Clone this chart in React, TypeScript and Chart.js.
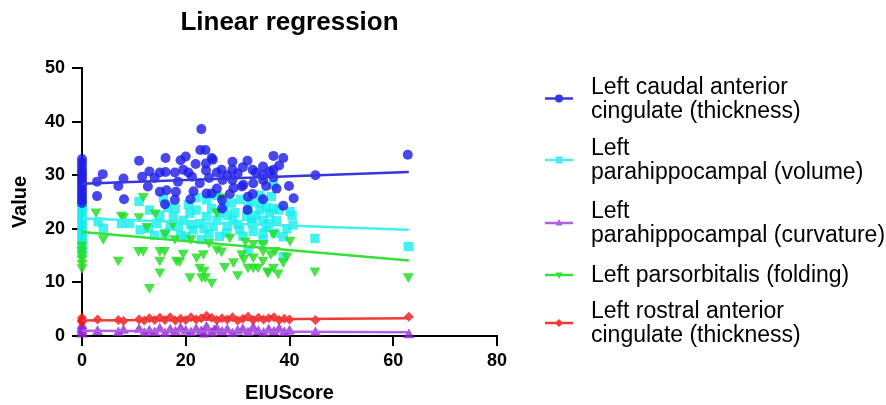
import React, { useEffect, useRef } from 'react';
import { Chart, registerables } from 'chart.js';
Chart.register(...registerables);

const titleText = 'Linear regression';
const xAxisTitle = 'EIUScore';
const yAxisTitle = 'Value';
const xTicks = [0, 20, 40, 60, 80];
const yTicks = [0, 10, 20, 30, 40, 50];

const seriesLabels = [
  ['Left caudal anterior', 'cingulate (thickness)'],
  ['Left', 'parahippocampal (volume)'],
  ['Left', 'parahippocampal (curvature)'],
  ['Left parsorbitalis (folding)'],
  ['Left rostral anterior', 'cingulate (thickness)'],
];

// Left caudal anterior cingulate (thickness)
const caudalX = [0, 0, 0, 0, 0, 0, 0, 0, 0, 0, 0, 0, 0, 0,
  2.9, 2.9, 4.0, 7.0, 8.0, 8.1, 11.0, 11.6, 12.7, 13.0, 14.0, 15.0, 15.0, 16.0, 16.1, 16.1, 16.3, 17.9, 17.9, 18.1, 18.5,
  19.0, 19.5, 20.0, 20.5, 20.9, 21.2, 21.5, 21.9, 22.7, 22.8, 23.0, 23.8, 23.9, 23.9, 24.0, 24.5, 25.0, 25.2, 25.0, 26.0,
  26.0, 26.9, 27.1, 27.0, 27.0, 28.0, 28.5, 29.0, 29.0, 29.0, 29.2, 30.0, 30.8, 31.0, 31.1, 31.9, 31.9, 32.0, 32.9, 32.9,
  33.0, 33.5, 34.9, 34.9, 34.9, 34.9, 35.5, 36.2, 36.9, 36.9, 36.9, 37.5, 38.0, 38.8, 38.8, 39.9, 40.8, 45.0, 62.8];
const caudalY = [33.0, 32.3, 31.5, 30.8, 30.2, 29.6, 29.0, 28.4, 27.8, 27.2, 26.6, 26.0, 25.4, 24.8,
  28.8, 26.1, 30.2, 28.0, 29.4, 25.5, 32.7, 29.7, 27.9, 30.7, 29.5, 30.5, 26.9, 24.6, 33.2, 30.6, 27.2, 30.5, 25.4, 26.9, 28.8,
  32.8, 31.0, 33.5, 30.5, 25.5, 29.7, 27.0, 32.1, 28.5, 34.7, 38.6, 34.7, 32.2, 30.9, 26.6, 29.5, 33.2, 32.9, 26.6, 30.5,
  27.5, 31.0, 29.1, 25.4, 23.8, 30.0, 26.5, 32.5, 31.0, 29.1, 27.6, 30.3, 27.9, 31.5, 28.2, 32.7, 23.5, 26.0, 31.0, 26.5,
  28.5, 30.5, 31.6, 30.0, 29.1, 25.5, 28.0, 30.7, 33.6, 31.0, 29.6, 27.5, 31.8, 33.2, 24.3, 28.0, 25.7, 30.0, 33.8];
const caudalFitX = [0, 63];
const caudalFitY = [28.4, 30.6];

// Left parahippocampal (volume)
const volumeX = [0, 0, 0, 0, 0, 0, 0, 0, 0, 0, 0, 0,
  3.1, 4.1, 7.6, 9.2, 11.0, 11.2, 12.8, 13.0, 14.0, 14.4, 15.0, 15.7, 16.0, 16.5, 17.0, 17.6, 18.0, 18.6, 19.0, 19.5,
  20.0, 20.5, 20.8, 21.0, 21.4, 22.0, 22.0, 22.7, 23.0, 23.5, 24.0, 24.0, 24.5, 25.0, 25.3, 26.0, 26.0, 26.5, 26.5, 27.5,
  27.9, 28.0, 28.0, 28.8, 29.1, 29.5, 30.0, 30.4, 30.5, 31.0, 31.7, 32.0, 32.0, 32.5, 32.7, 32.8, 33.0, 33.5, 34.3, 34.3,
  34.3, 34.9, 34.9, 34.9, 35.5, 35.5, 36.0, 36.2, 36.5, 36.9, 36.9, 37.2, 37.5, 38.0, 38.8, 38.8, 39.5, 40.1, 40.5, 40.7,
  44.9, 62.9];
const volumeY = [24.4, 23.6, 22.8, 22.0, 21.2, 20.4, 19.6, 18.8, 18.0, 17.2, 16.4, 15.6,
  21.3, 20.1, 21.0, 21.0, 25.1, 19.8, 20.1, 23.5, 18.8, 21.0, 22.5, 25.7, 19.2, 24.0, 20.5, 22.3, 23.8, 20.4, 18.8, 21.6,
  18.5, 24.5, 22.9, 20.8, 19.8, 23.5, 25.8, 21.0, 18.0, 20.0, 25.4, 22.3, 19.0, 23.8, 20.4, 21.6, 26.2, 23.0, 18.6, 24.2,
  19.2, 22.5, 20.5, 24.8, 21.6, 23.0, 20.8, 19.8, 25.5, 18.6, 22.3, 23.9, 16.0, 25.0, 21.6, 21.0, 19.5, 22.5, 23.5, 24.8,
  26.3, 19.2, 21.6, 17.9, 20.3, 24.0, 21.0, 22.9, 26.0, 28.2, 23.8, 19.2, 21.5, 23.5, 18.5, 14.8, 20.0, 23.2, 22.5, 20.7,
  18.2, 16.7];
const volumeFitX = [0, 63];
const volumeFitY = [21.9, 19.8];

// Left parahippocampal (curvature)
const curvatureX = [0, 0, 0, 0, 0, 3, 7, 8, 11, 12, 13, 14, 15, 16, 17, 18, 19, 20, 21, 22, 23, 23.5, 24, 25, 25.5, 26,
  27, 28, 29, 30, 31, 32, 33, 34, 35, 36, 37, 38, 39, 40, 45, 63];
const curvatureY = [0.3, 0.7, 1.1, 1.5, 1.9, 0.8, 0.6, 1.0, 1.2, 0.5, 0.9, 0.6, 1.3, 0.4, 1.1, 0.7, 1.4, 0.9, 0.6, 1.2,
  0.8, 0.3, 1.6, 0.5, 1.0, 1.3, 0.7, 1.1, 0.4, 0.9, 1.2, 0.6, 1.5, 0.8, 0.5, 1.1, 0.7, 1.3, 0.6, 0.9, 0.6, 0.2];
const curvatureFitX = [0, 63];
const curvatureFitY = [1.0, 0.7];

// Left parsorbitalis (folding)
const foldingX = [0, 0, 0, 0, 0, 0,
  2.7, 4.1, 7.0, 7.6, 8.0, 10.9, 11.0, 11.8, 11.8, 12.5, 13.0, 14.1, 15.0, 15.0, 15.0, 15.9, 16.0, 17.5, 17.9, 18.2, 18.8,
  19.5, 20.8, 21.0, 22.1, 22.7, 23.1, 23.4, 23.5, 23.8, 24.5, 25.0, 26.0, 26.0, 26.9, 26.9, 27.5, 28.5, 29.2, 30.0, 30.8,
  31.2, 31.5, 32.0, 33.0, 33.0, 33.0, 33.9, 34.9, 34.9, 34.9, 35.8, 35.9, 36.4, 36.9, 36.9, 37.2, 37.8, 38.8, 39.5, 40.1,
  44.9, 62.9];
const foldingY = [17.0, 16.0, 15.2, 14.4, 13.6, 12.8,
  23.2, 18.2, 14.2, 22.6, 22.3, 16.0, 22.3, 16.0, 26.1, 20.5, 9.1, 23.0, 16.0, 14.2, 12.0, 16.0, 19.2, 21.0, 18.2, 14.2, 14.0,
  15.5, 11.1, 18.2, 14.8, 12.9, 11.1, 15.4, 12.3, 11.1, 17.5, 10.1, 16.3, 23.2, 26.0, 15.9, 13.0, 18.5, 13.9, 11.5, 15.4,
  14.5, 17.8, 12.9, 12.9, 17.3, 14.8, 12.9, 14.2, 17.3, 16.0, 12.0, 12.2, 15.4, 12.9, 19.2, 16.0, 11.8, 13.9, 15.0, 17.9,
  12.2, 11.1];
const foldingFitX = [0, 63];
const foldingFitY = [19.4, 14.1];

// Left rostral anterior cingulate (thickness)
const rostralX = [0, 0, 0, 0, 3, 7, 8, 11, 12, 13, 14, 15, 16, 17, 18, 19, 20, 21, 22, 23, 24, 25, 26, 27, 28, 29, 30, 31,
  32, 33, 34, 35, 36, 37, 38, 39, 40, 45, 63];
const rostralY = [2.6, 3.0, 3.4, 2.8, 3.1, 3.0, 2.8, 3.1, 2.9, 3.3, 3.0, 3.4, 3.0, 3.5, 2.9, 3.2, 3.0, 3.5, 3.1, 3.3, 3.8,
  3.4, 3.0, 3.3, 3.1, 3.5, 2.9, 3.2, 3.6, 3.0, 3.4, 3.1, 3.3, 3.5, 3.0, 3.2, 3.1, 3.0, 3.6];
const rostralFitX = [0, 63];
const rostralFitY = [2.9, 3.3];

const pts = (xs: number[], ys: number[]) => xs.map((x, i) => ({ x, y: ys[i] }));

const COLORS = {
  blue: { pt: 'rgba(30,30,232,0.82)', line: '#3636e2' },
  cyan: { pt: 'rgba(20,238,238,0.8)', line: '#3ff0f0' },
  purple: { pt: 'rgba(150,40,215,0.8)', line: '#b060e4' },
  green: { pt: 'rgba(40,222,40,0.85)', line: '#36e036' },
  red: { pt: 'rgba(240,25,25,0.8)', line: '#f03a3a' },
};

const FONT = '"Liberation Sans", Arial, sans-serif';

function drawMarker(ctx: CanvasRenderingContext2D, kind: string, x: number, y: number, r: number) {
  ctx.beginPath();
  if (kind === 'circle') {
    ctx.arc(x, y, r, 0, Math.PI * 2);
  } else if (kind === 'rect') {
    ctx.rect(x - r, y - r, 2 * r, 2 * r);
  } else if (kind === 'tri') {
    ctx.moveTo(x, y - r);
    ctx.lineTo(x + r * 0.9, y + r * 0.6);
    ctx.lineTo(x - r * 0.9, y + r * 0.6);
    ctx.closePath();
  } else if (kind === 'itri') {
    ctx.moveTo(x, y + r);
    ctx.lineTo(x + r * 0.9, y - r * 0.6);
    ctx.lineTo(x - r * 0.9, y - r * 0.6);
    ctx.closePath();
  } else if (kind === 'diamond') {
    ctx.moveTo(x, y - r);
    ctx.lineTo(x + r, y);
    ctx.lineTo(x, y + r);
    ctx.lineTo(x - r, y);
    ctx.closePath();
  }
  ctx.fill();
}

const decorPlugin = {
  id: 'decor',
  afterDraw(chart: any) {
    const ctx: CanvasRenderingContext2D = chart.ctx;
    const { left, right } = chart.chartArea;
    ctx.save();
    ctx.fillStyle = '#000';
    ctx.font = `bold 26px ${FONT}`;
    ctx.textAlign = 'center';
    ctx.textBaseline = 'middle';
    ctx.fillText(titleText, (left + right) / 2, 23);

    const entries = [
      { c: COLORS.blue, m: 'circle', y: 98.5 },
      { c: COLORS.cyan, m: 'rect', y: 160 },
      { c: COLORS.purple, m: 'tri', y: 223 },
      { c: COLORS.green, m: 'itri', y: 275 },
      { c: COLORS.red, m: 'diamond', y: 323 },
    ];
    const lineGap = 24;
    ctx.font = `23px ${FONT}`;
    ctx.textAlign = 'left';
    entries.forEach((e, i) => {
      ctx.strokeStyle = e.c.line;
      ctx.lineWidth = 2.5;
      ctx.beginPath();
      ctx.moveTo(545, e.y);
      ctx.lineTo(573, e.y);
      ctx.stroke();
      ctx.fillStyle = e.c.line;
      drawMarker(ctx, e.m, 559, e.y, e.m === 'rect' ? 3.5 : 4);
      const lines = seriesLabels[i];
      ctx.fillStyle = '#000';
      const start = e.y - ((lines.length - 1) * lineGap) / 2;
      lines.forEach((t, j) => ctx.fillText(t, 591, start + j * lineGap + 1));
    });
    ctx.restore();
  },
};

export default function App() {
  const ref = useRef<HTMLCanvasElement>(null);
  useEffect(() => {
    if (!ref.current) return;
    const scatterDs = (label: string, xs: number[], ys: number[], color: string, style: any, radius: number, order: number, rotation = 0) => ({
      label,
      data: pts(xs, ys),
      pointStyle: style,
      pointRadius: radius,
      pointBackgroundColor: color,
      pointBorderWidth: 0,
      pointBorderColor: color,
      rotation,
      showLine: false,
      clip: false,
      order,
    });
    const fitDs = (xs: number[], ys: number[], color: string, order: number) => ({
      label: 'fit',
      data: pts(xs, ys),
      showLine: true,
      borderColor: color,
      borderWidth: 2.5,
      pointRadius: 0,
      fill: false,
      clip: false,
      order,
    });
    const chart = new Chart(ref.current, {
      type: 'scatter',
      data: {
        datasets: [
          scatterDs(seriesLabels[0].join(' '), caudalX, caudalY, COLORS.blue.pt, 'circle', 5.0, 3),
          scatterDs(seriesLabels[1].join(' '), volumeX, volumeY, COLORS.cyan.pt, 'rect', 6.6, 5),
          scatterDs(seriesLabels[2].join(' '), curvatureX, curvatureY, COLORS.purple.pt, 'triangle', 6.4, 7),
          scatterDs(seriesLabels[3].join(' '), foldingX, foldingY, COLORS.green.pt, 'triangle', 6.4, 4, 180),
          scatterDs(seriesLabels[4].join(' '), rostralX, rostralY, COLORS.red.pt, 'rectRot', 5.0, 6),
          fitDs(caudalFitX, caudalFitY, COLORS.blue.line, 0),
          fitDs(volumeFitX, volumeFitY, COLORS.cyan.line, 1),
          fitDs(curvatureFitX, curvatureFitY, COLORS.purple.line, 2),
          fitDs(foldingFitX, foldingFitY, COLORS.green.line, 0),
          fitDs(rostralFitX, rostralFitY, COLORS.red.line, 1),
        ] as any,
      },
      options: {
        animation: false,
        responsive: false,
        layout: { padding: { left: 0, right: 389, top: 68, bottom: 0 } },
        plugins: { legend: { display: false }, tooltip: { enabled: false }, title: { display: false } },
        scales: {
          x: {
            type: 'linear',
            min: 0,
            max: 80,
            afterFit: (s: any) => { s.height = 69; },
            afterBuildTicks: (s: any) => { s.ticks = xTicks.map((v) => ({ value: v })); },
            ticks: { color: '#000', font: { family: FONT, size: 18, weight: 'bold' }, padding: 4, maxRotation: 0 },
            grid: { drawOnChartArea: false, drawTicks: true, tickLength: 10, color: '#000', lineWidth: 2 },
            border: { display: true, color: '#000', width: 2 },
            title: { display: true, text: xAxisTitle, color: '#000', font: { family: FONT, size: 20, weight: 'bold' }, padding: { top: 0, bottom: 0 } },
          },
          y: {
            type: 'linear',
            min: 0,
            max: 50,
            afterFit: (s: any) => { s.width = 82; },
            afterBuildTicks: (s: any) => { s.ticks = yTicks.map((v) => ({ value: v })); },
            ticks: { color: '#000', font: { family: FONT, size: 18, weight: 'bold' }, padding: 7 },
            grid: { drawOnChartArea: false, drawTicks: true, tickLength: 10, color: '#000', lineWidth: 2 },
            border: { display: true, color: '#000', width: 2 },
            title: { display: true, text: yAxisTitle, color: '#000', font: { family: FONT, size: 20, weight: 'bold' }, padding: { top: 8, bottom: 0 } },
          },
        },
      } as any,
      plugins: [decorPlugin],
    });
    return () => chart.destroy();
  }, []);
  return (
    <div style={{ position: 'absolute', left: 0, top: 0, width: 886, height: 405, background: '#fff' }}>
      <canvas ref={ref} width={886} height={405} style={{ display: 'block' }} />
    </div>
  );
}
